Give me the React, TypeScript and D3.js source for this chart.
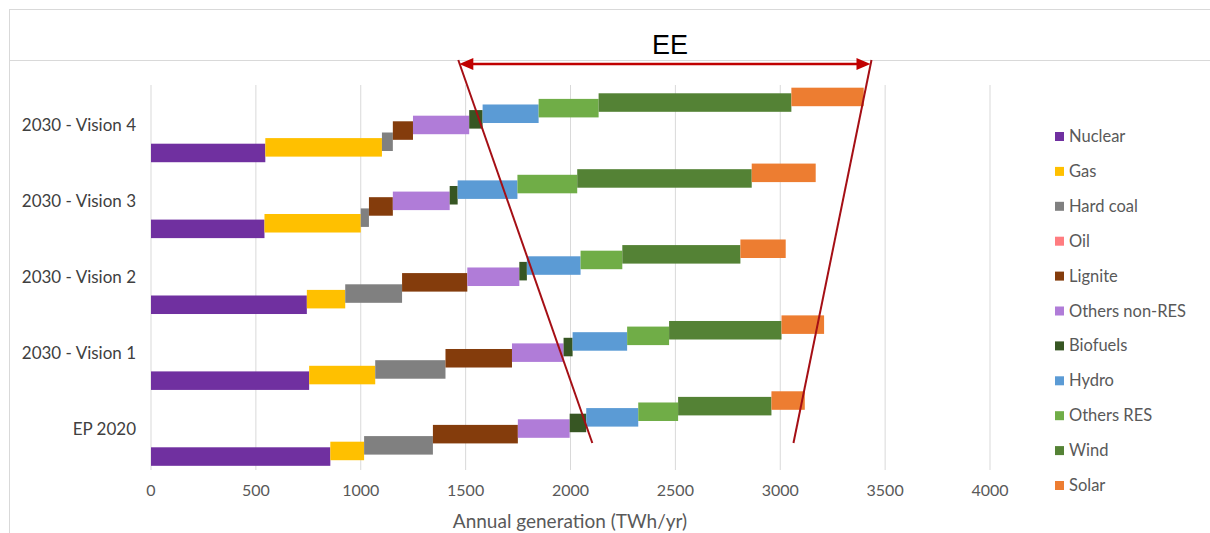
import React from "react";
import * as d3 from "d3";

const categories = ["2030 - Vision 4", "2030 - Vision 3", "2030 - Vision 2", "2030 - Vision 1", "EP 2020"];
const seriesNames = ["Nuclear", "Gas", "Hard coal", "Oil", "Lignite", "Others non-RES", "Biofuels", "Hydro", "Others RES", "Wind", "Solar"];
const seriesColors = ["#7030a0", "#ffc000", "#808080", "#ff7c80", "#843c0c", "#b07cd8", "#375623", "#5b9bd5", "#70ad47", "#548235", "#ed7d31"];

// values per category, in series order (TWh/yr)
const vision4 = [545, 556, 52, 0, 96, 268, 64, 267, 286, 919, 345];
const vision3 = [541, 459, 39, 0, 114, 271, 38, 285, 285, 832, 305];
const vision2 = [743, 183, 271, 0, 311, 248, 36, 256, 199, 563, 216];
const vision1 = [754, 315, 335, 0, 317, 246, 43, 260, 200, 536, 203];
const ep2020 = [855, 161, 328, 0, 405, 247, 79, 248, 190, 445, 159];
const valuesByCategory = [vision4, vision3, vision2, vision1, ep2020];

const xTicks = [0, 500, 1000, 1500, 2000, 2500, 3000, 3500, 4000];

// EE annotation (data units)
const eeLeft = { top: 1465, bottom: 2104 };
const eeRight = { top: 3435, bottom: 3063 };

const FONT = "Lato, 'Noto Sans', sans-serif";

export default function App() {
  const W = 1210, H = 533;
  const x = d3.scaleLinear().domain([0, 4000]).range([151, 990]);
  const y = d3.scaleBand().domain(categories).range([87, 466.5]).padding(0);
  const bw = y.bandwidth();
  const step = bw * 0.0738;
  const barH = bw * 0.244;
  const s = d3.scalePoint<string>().domain(seriesNames).range([bw / 2 + 5 * step, bw / 2 - 5 * step]);

  const bars: any[] = [];
  categories.forEach((c, ci) => {
    const vals = valuesByCategory[ci];
    const cum = d3.cumsum(vals);
    seriesNames.forEach((sn, si) => {
      const v = vals[si];
      if (v <= 0) return;
      const x0 = si === 0 ? 0 : cum[si - 1];
      const x1 = cum[si];
      const cy = (y(c) as number) + (s(sn) as number);
      bars.push(
        <rect key={c + sn} x={x(x0)} y={cy - barH / 2} width={x(x1) - x(x0)} height={barH} fill={seriesColors[si]} />
      );
    });
  });

  const annTop = 60;
  const annBottom = 443;
  const arrowY = 64;

  return (
    <svg width={W} height={H} style={{ position: "absolute", left: 0, top: 0 }} fontFamily={FONT}>
      <rect x={0} y={0} width={W} height={H} fill="#fff" />
      {/* frame */}
      <line x1={9} x2={W} y1={9.5} y2={9.5} stroke="#d9d9d9" strokeWidth={1} />
      <line x1={9} x2={W} y1={60.5} y2={60.5} stroke="#d9d9d9" strokeWidth={1} />
      <line x1={9.5} x2={9.5} y1={9} y2={H} stroke="#d9d9d9" strokeWidth={1} />
      <text x={670} y={54} textAnchor="middle" fontSize={27} fill="#000" fontFamily="'Liberation Sans', Arial, sans-serif">EE</text>

      {/* gridlines */}
      {xTicks.map((t) => (
        <line key={t} x1={x(t)} x2={x(t)} y1={85} y2={470} stroke="#d9d9d9" strokeWidth={1} />
      ))}
      {bars}

      {/* x tick labels */}
      {xTicks.map((t) => (
        <text key={"l" + t} x={x(t)} y={496} textAnchor="middle" fontSize={16} fill="#595959">{t}</text>
      ))}
      <text x={570} y={528} textAnchor="middle" fontSize={19} fill="#595959">Annual generation (TWh/yr)</text>

      {/* category labels */}
      {categories.map((c) => (
        <text key={c} x={136} y={(y(c) as number) + bw / 2 + 6} textAnchor="end" fontSize={17} fill="#404040">{c}</text>
      ))}

      {/* legend */}
      {seriesNames.map((sn, i) => {
        const ly = 136 + i * 34.9;
        return (
          <g key={"lg" + sn}>
            <rect x={1055} y={ly - 4} width={9} height={9} fill={seriesColors[i]} />
            <text x={1069} y={ly + 6} fontSize={16.5} fill="#595959">{sn}</text>
          </g>
        );
      })}

      {/* EE annotation */}
      <line x1={x(eeLeft.top)} y1={annTop} x2={x(eeLeft.bottom)} y2={annBottom} stroke="#a50f15" strokeWidth={2} />
      <line x1={x(eeRight.top)} y1={annTop} x2={x(eeRight.bottom)} y2={annBottom} stroke="#a50f15" strokeWidth={2} />
      <line x1={x(eeLeft.top) + 12} x2={x(eeRight.top) - 12} y1={arrowY} y2={arrowY} stroke="#c00000" strokeWidth={2.5} />
      <path d={`M${x(eeLeft.top) + 1},${arrowY} L${x(eeLeft.top) + 15},${arrowY - 6} L${x(eeLeft.top) + 15},${arrowY + 6} Z`} fill="#c00000" />
      <path d={`M${x(eeRight.top) - 1},${arrowY} L${x(eeRight.top) - 15},${arrowY - 6} L${x(eeRight.top) - 15},${arrowY + 6} Z`} fill="#c00000" />
    </svg>
  );
}
